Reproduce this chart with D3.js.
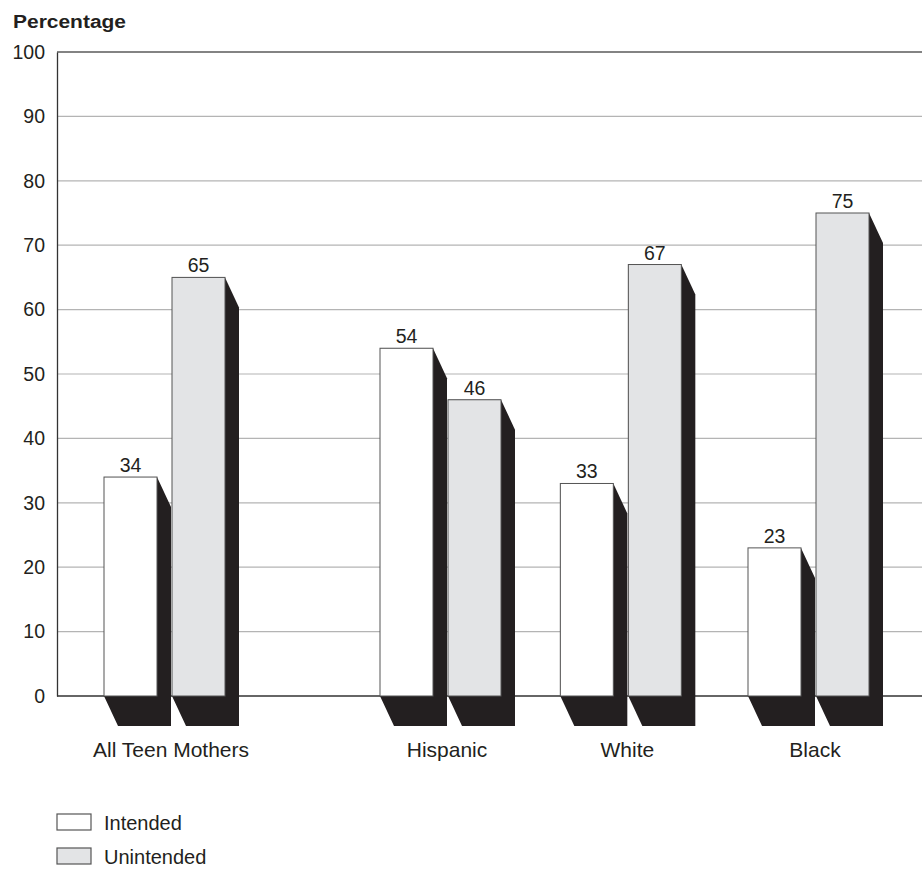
<!DOCTYPE html>
<html>
<head>
<meta charset="utf-8">
<script src="https://cdn.jsdelivr.net/npm/d3@7"></script>
<style>
  html, body { margin: 0; padding: 0; background: #fff; }
  svg { display: block; font-family: "Liberation Sans", Arial, sans-serif; }
</style>
</head>
<body>
<svg id="chart" width="922" height="869"></svg>
<script>
// ---- data ----
const categories = ["All Teen Mothers", "Hispanic", "White", "Black"];
const seriesNames = ["Intended", "Unintended"];
const intended = [34, 54, 33, 23];
const unintended = [65, 46, 67, 75];
const yTicks = [0, 10, 20, 30, 40, 50, 60, 70, 80, 90, 100];
const yLabel = "Percentage";

// ---- layout ----
const groupSlot = [0, 1.5, 2.48, 3.5];      // group spacing (All Teen Mothers set apart)
const fills = ["#ffffff", "#e3e4e6"];
const shadowColor = "#231f20";
const barW = 53, depthX = 14, depthY = 30;

const svg = d3.select("#chart");
const y = d3.scaleLinear().domain([0, 100]).range([696, 52]);
const x = d3.scaleLinear().domain([0, 3.5]).range([171, 815]);
const plotLeft = 57, plotRight = 922;

// gridlines
svg.append("g").selectAll("line").data(yTicks.filter(t => t > 0 && t < 100)).join("line")
  .attr("x1", plotLeft).attr("x2", plotRight)
  .attr("y1", d => y(d)).attr("y2", d => y(d))
  .attr("stroke", "#b4b4b4").attr("stroke-width", 1.2);
// top line
svg.append("line").attr("x1", plotLeft).attr("x2", plotRight)
  .attr("y1", y(100)).attr("y2", y(100)).attr("stroke", "#5a5a5a").attr("stroke-width", 1.3);
// baseline
svg.append("line").attr("x1", plotLeft).attr("x2", plotRight)
  .attr("y1", y(0)).attr("y2", y(0)).attr("stroke", "#333").attr("stroke-width", 1.3);

// y axis via d3.axisLeft
const yAxis = svg.append("g").attr("transform", `translate(${plotLeft},0)`)
  .call(d3.axisLeft(y).tickValues(yTicks).tickSize(0).tickPadding(12));
yAxis.select(".domain").attr("stroke", "#333").attr("stroke-width", 1.3);
yAxis.selectAll("text").attr("font-size", 19.5).attr("fill", "#231f20")
  .attr("font-family", "'Liberation Sans', Arial, sans-serif");

// y label
svg.append("text").attr("x", 13).attr("y", 28).text(yLabel)
  .attr("font-size", 17.5).attr("font-weight", "bold").attr("fill", "#231f20")
  .attr("textLength", 113).attr("lengthAdjust", "spacingAndGlyphs");

// bars
const bars = [];
categories.forEach((c, i) => {
  const cx = x(groupSlot[i]);
  [intended[i], unintended[i]].forEach((v, s) => {
    bars.push({ cat: c, s, v, x0: s === 0 ? cx - 67 : cx + 1 });
  });
});

const g = svg.append("g");
const bg = g.selectAll("g.bar").data(bars).join("g").attr("class", "bar");
bg.append("path")
  .attr("d", d => {
    const x0 = d.x0, x1 = d.x0 + barW, top = y(d.v), bot = y(0);
    return `M${x0},${top}L${x1},${top}L${x1 + depthX},${top + depthY}L${x1 + depthX},${bot + depthY}L${x0 + depthX},${bot + depthY}L${x0},${bot}Z`;
  })
  .attr("fill", shadowColor);
bg.append("rect")
  .attr("x", d => d.x0).attr("y", d => y(d.v))
  .attr("width", barW).attr("height", d => y(0) - y(d.v))
  .attr("fill", d => fills[d.s]).attr("stroke", "#555").attr("stroke-width", 1);
bg.append("text")
  .attr("x", d => d.x0 + barW / 2).attr("y", d => y(d.v) - 5)
  .attr("text-anchor", "middle").attr("font-size", 19.5).attr("fill", "#231f20")
  .text(d => d.v);

// category labels
svg.append("g").selectAll("text").data(categories).join("text")
  .attr("x", (d, i) => x(groupSlot[i])).attr("y", 757)
  .attr("text-anchor", "middle").attr("font-size", 21).attr("fill", "#231f20")
  .text(d => d);

// legend
const leg = svg.append("g").selectAll("g").data(seriesNames).join("g")
  .attr("transform", (d, i) => `translate(57,${814 + i * 34})`);
leg.append("rect").attr("width", 34).attr("height", 16)
  .attr("fill", (d, i) => fills[i]).attr("stroke", "#555").attr("stroke-width", 1.2);
leg.append("text").attr("x", 47).attr("y", 15.5)
  .attr("font-size", 20).attr("fill", "#231f20").text(d => d);
</script>
</body>
</html>
